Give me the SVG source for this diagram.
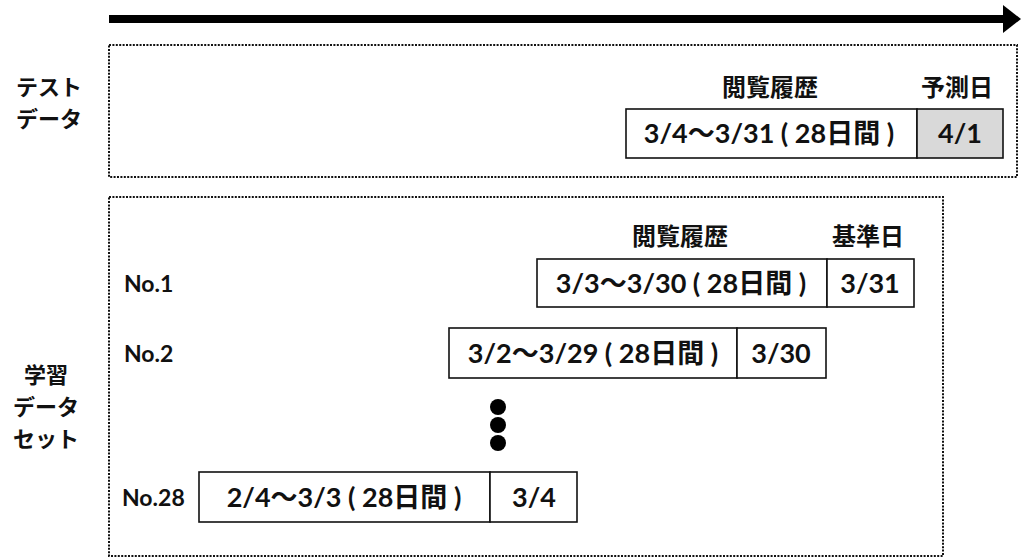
<svg xmlns="http://www.w3.org/2000/svg" width="1021" height="558" viewBox="0 0 1021 558">
<style>
.t{font-family:"Lato","Noto Sans CJK JP",sans-serif;font-weight:bold;fill:#111;}
.jp{font-family:"Noto Sans CJK JP",sans-serif;font-weight:bold;fill:#111;font-size:24px;}
.side{font-family:"Noto Sans CJK JP",sans-serif;font-weight:bold;fill:#111;font-size:22px;text-anchor:middle;}
.cell{font-size:27px;text-anchor:middle;}
.lab{font-size:23px;}
.frame{fill:none;stroke:#111;stroke-width:2;stroke-dasharray:2 1.4;}
.box{fill:#fff;stroke:#111;stroke-width:1.6;}
.gray{fill:#d9d9d9;stroke:#111;stroke-width:1.6;}
</style>
<rect width="1021" height="558" fill="#fff"/>
<g id="timeline">
<rect x="109" y="15" width="898" height="8" fill="#000"/>
<polygon points="1003,5 1021,19 1003,33" fill="#000"/>
</g>
<g id="test-data">
<rect class="frame" x="109" y="45" width="908" height="132"/>
<text class="side" x="49" y="95">テスト</text>
<text class="side" x="49" y="127">データ</text>
<text class="jp" text-anchor="middle" x="770" y="96">閲覧履歴</text>
<text class="jp" text-anchor="middle" x="957" y="96">予測日</text>
<rect class="box" x="626" y="109" width="291" height="49"/>
<rect class="gray" x="917" y="109" width="86" height="49"/>
<text class="t cell" x="769" y="143">3/4〜3/31 ( 28日間 )</text>
<text class="t cell" x="960" y="143">4/1</text>
</g>
<g id="training-data">
<rect class="frame" x="109" y="197" width="834" height="359"/>
<text class="side" x="46" y="383">学習</text>
<text class="side" x="46" y="415">データ</text>
<text class="side" x="46" y="447">セット</text>
</g>
<g id="no1">
<text class="t lab" x="124" y="292">No.1</text>
<text class="jp" text-anchor="middle" x="680" y="245">閲覧履歴</text>
<text class="jp" text-anchor="middle" x="868" y="245">基準日</text>
<rect class="box" x="537" y="259" width="290" height="48"/>
<rect class="box" x="827" y="259" width="87" height="48"/>
<text class="t cell" x="681" y="293">3/3〜3/30 ( 28日間 )</text>
<text class="t cell" x="870" y="293">3/31</text>
</g>
<g id="no2">
<text class="t lab" x="124" y="362">No.2</text>
<rect class="box" x="449" y="328" width="288" height="50"/>
<rect class="box" x="737" y="328" width="89" height="50"/>
<text class="t cell" x="593" y="363">3/2〜3/29 ( 28日間 )</text>
<text class="t cell" x="781" y="363">3/30</text>
</g>
<g id="ellipsis">
<circle cx="498" cy="407" r="8" fill="#000"/>
<circle cx="498" cy="425" r="8" fill="#000"/>
<circle cx="498" cy="443" r="8" fill="#000"/>
</g>
<g id="no28">
<text class="t lab" x="122" y="506">No.28</text>
<rect class="box" x="199" y="472" width="291" height="50"/>
<rect class="box" x="490" y="472" width="87" height="50"/>
<text class="t cell" x="344" y="507">2/4〜3/3 ( 28日間 )</text>
<text class="t cell" x="534" y="507">3/4</text>
</g>
<g id="connectors"></g>
</svg>
